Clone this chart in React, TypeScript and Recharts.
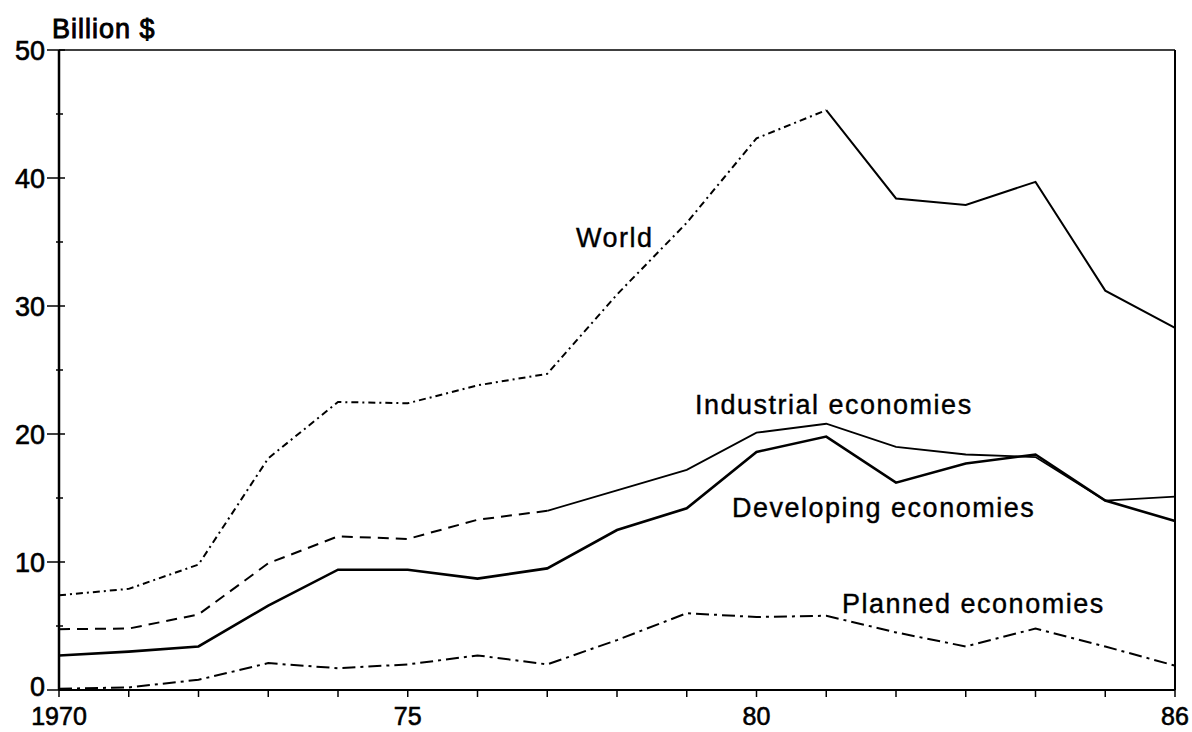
import React from "react";
import { LineChart, Line, XAxis, YAxis, ReferenceLine } from "recharts";

const years = [
  1970, 1971, 1972, 1973, 1974, 1975, 1976, 1977, 1978, 1979, 1980, 1981,
  1982, 1983, 1984, 1985, 1986,
];
const world = [
  7.4, 7.9, 9.8, 18.1, 22.5, 22.4, 23.8, 24.7, 30.9, 36.5, 43.1, 45.3, 38.4,
  37.9, 39.7, 31.2, 28.3,
];
const industrial = [
  4.75, 4.8, 5.9, 9.9, 12.0, 11.8, 13.3, 14.0, 15.6, 17.2, 20.1, 20.8, 19.0,
  18.4, 18.2, 14.8, 15.1,
];
const developing = [
  2.7, 3.0, 3.4, 6.6, 9.4, 9.4, 8.7, 9.5, 12.5, 14.2, 18.6, 19.8, 16.2, 17.7,
  18.4, 14.8, 13.2,
];
const planned = [
  0.1, 0.2, 0.8, 2.1, 1.7, 2.0, 2.7, 2.0, 3.9, 6.0, 5.7, 5.8, 4.5, 3.4, 4.8,
  3.4, 1.9,
];

const yTicks = [0, 5, 10, 15, 20, 25, 30, 35, 40, 45, 50];
const xTickLabels: Record<number, string> = {
  1970: "1970",
  1975: "75",
  1980: "80",
  1986: "86",
};

// the scan shows the world line turning solid after 1981 and industrial after 1977
const worldSolidFrom = 1981;
const industrialSolidFrom = 1977;

const data = years.map((year, i) => ({
  year,
  worldA: year <= worldSolidFrom ? world[i] : null,
  worldB: year >= worldSolidFrom ? world[i] : null,
  industrialA: year <= industrialSolidFrom ? industrial[i] : null,
  industrialB: year >= industrialSolidFrom ? industrial[i] : null,
  developing: developing[i],
  planned: planned[i],
}));

const font = "'Liberation Sans', Arial, sans-serif";

function YTick(props: any) {
  const { x, y, payload } = props;
  const major = payload.value % 10 === 0;
  // lift the "0" a little so it clears the "1970" below it
  const lift = payload.value === 0 ? 4 : 0;
  return (
    <g>
      {major ? (
        <>
          <line x1={x - 12} x2={x + 6} y1={y} y2={y} stroke="#000" strokeWidth={1.5} />
          <text
            x={x - 14}
            y={y - lift}
            dy="0.36em"
            textAnchor="end"
            fontSize={27}
            fontFamily={font}
            fill="#000"
            stroke="#000"
            strokeWidth={0.6}
          >
            {payload.value}
          </text>
        </>
      ) : (
        <line x1={x - 3} x2={x + 4} y1={y} y2={y} stroke="#000" strokeWidth={1.5} />
      )}
    </g>
  );
}

const labelStyle = {
  fontSize: 27,
  fontFamily: font,
  fill: "#000",
  stroke: "#000",
  strokeWidth: 0.4,
  letterSpacing: 1.5,
};

export default function App() {
  return (
    <div style={{ position: "absolute", left: 0, top: 0, width: 1192, height: 732, background: "#fff" }}>
      <LineChart
        width={1192}
        height={732}
        data={data}
        margin={{ top: 50, right: 17, bottom: 0, left: 0 }}
      >
        <XAxis
          dataKey="year"
          type="number"
          domain={[1970, 1986]}
          ticks={years}
          interval={0}
          tickFormatter={(v: number) => xTickLabels[v] ?? ""}
          tickSize={7}
          tickMargin={10}
          height={42}
          axisLine={{ stroke: "#000", strokeWidth: 2 }}
          tickLine={{ stroke: "#000", strokeWidth: 1.5 }}
          tick={{ fontSize: 25, fontFamily: font, fill: "#000", stroke: "#000", strokeWidth: 0.6 }}
        />
        <YAxis
          type="number"
          domain={[0, 50]}
          ticks={yTicks}
          interval={0}
          width={59}
          tickSize={0}
          tickMargin={0}
          tickLine={false}
          axisLine={{ stroke: "#000", strokeWidth: 2.5 }}
          tick={<YTick />}
        />
        <ReferenceLine y={50} stroke="#000" strokeWidth={1.5} />
        <ReferenceLine x={1986} stroke="#000" strokeWidth={2} />
        <Line
          dataKey="worldA"
          stroke="#000"
          strokeWidth={2}
          strokeDasharray="7 4 2 4"
          dot={false}
          connectNulls={false}
          isAnimationActive={false}
        />
        <Line
          dataKey="worldB"
          stroke="#000"
          strokeWidth={2}
          dot={false}
          connectNulls={false}
          isAnimationActive={false}
        />
        <Line
          dataKey="industrialA"
          stroke="#000"
          strokeWidth={2}
          strokeDasharray="11 7"
          dot={false}
          connectNulls={false}
          isAnimationActive={false}
        />
        <Line
          dataKey="industrialB"
          stroke="#000"
          strokeWidth={1.8}
          dot={false}
          connectNulls={false}
          isAnimationActive={false}
        />
        <Line
          dataKey="developing"
          stroke="#000"
          strokeWidth={2.6}
          dot={false}
          isAnimationActive={false}
        />
        <Line
          dataKey="planned"
          stroke="#000"
          strokeWidth={2}
          strokeDasharray="13 5 3 5"
          dot={false}
          isAnimationActive={false}
        />
      </LineChart>
      <svg
        width={1192}
        height={732}
        style={{ position: "absolute", left: 0, top: 0, pointerEvents: "none" }}
      >
        <text x={52} y={38} {...labelStyle} fontSize={27} letterSpacing={1} strokeWidth={0.9}>
          Billion $
        </text>
        <text x={576} y={247} {...labelStyle}>
          World
        </text>
        <text x={695} y={414} {...labelStyle}>
          Industrial economies
        </text>
        <text x={732} y={517} {...labelStyle}>
          Developing economies
        </text>
        <text x={842} y={613} {...labelStyle}>
          Planned economies
        </text>
      </svg>
    </div>
  );
}
